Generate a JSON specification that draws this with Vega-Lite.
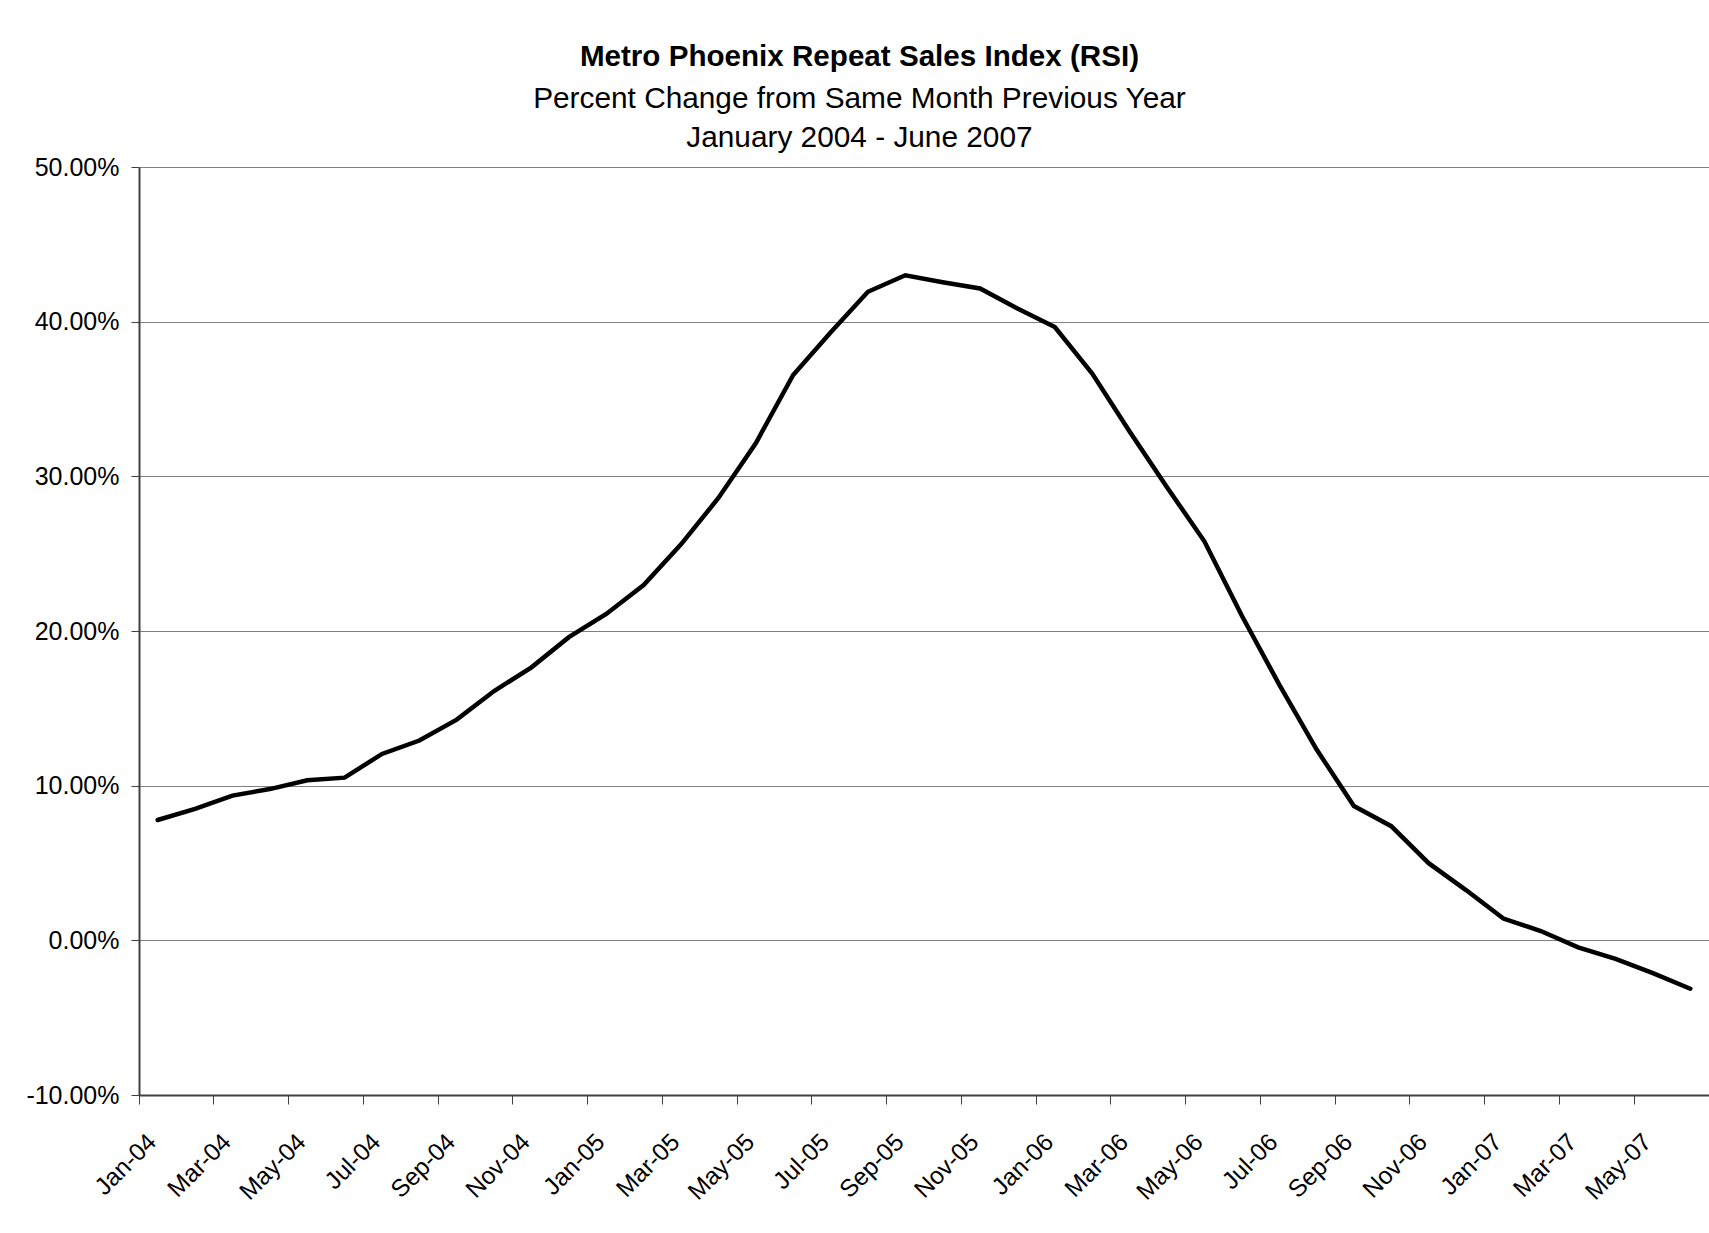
{
  "$schema": "https://vega.github.io/schema/vega-lite/v6.json",
  "autosize": "none",
  "width": 1570,
  "height": 928,
  "padding": {"left": 139, "top": 167, "right": 0, "bottom": 138},
  "background": "white",
  "title": {
    "text": "Metro Phoenix Repeat Sales Index (RSI)",
    "subtitle": ["Percent Change from Same Month Previous Year", "January 2004 - June 2007"],
    "anchor": "middle",
    "frame": "bounds",
    "dx": -8,
    "font": "Liberation Sans",
    "fontSize": 29.6,
    "fontWeight": "bold",
    "color": "black",
    "subtitleFont": "Liberation Sans",
    "subtitleFontSize": 29.8,
    "subtitleColor": "black",
    "subtitleLineHeight": 39,
    "subtitlePadding": 12,
    "offset": 1
  },
  "data": {
    "values": [
      {"month": "Jan-04", "pct": 7.78},
      {"month": "Feb-04", "pct": 8.5},
      {"month": "Mar-04", "pct": 9.36},
      {"month": "Apr-04", "pct": 9.78},
      {"month": "May-04", "pct": 10.35},
      {"month": "Jun-04", "pct": 10.52},
      {"month": "Jul-04", "pct": 12.05},
      {"month": "Aug-04", "pct": 12.92},
      {"month": "Sep-04", "pct": 14.27},
      {"month": "Oct-04", "pct": 16.12},
      {"month": "Nov-04", "pct": 17.65},
      {"month": "Dec-04", "pct": 19.6},
      {"month": "Jan-05", "pct": 21.1},
      {"month": "Feb-05", "pct": 22.97},
      {"month": "Mar-05", "pct": 25.6},
      {"month": "Apr-05", "pct": 28.6},
      {"month": "May-05", "pct": 32.14},
      {"month": "Jun-05", "pct": 36.55},
      {"month": "Jul-05", "pct": 39.3},
      {"month": "Aug-05", "pct": 41.93},
      {"month": "Sep-05", "pct": 43.0},
      {"month": "Oct-05", "pct": 42.55},
      {"month": "Nov-05", "pct": 42.15},
      {"month": "Dec-05", "pct": 40.85},
      {"month": "Jan-06", "pct": 39.65},
      {"month": "Feb-06", "pct": 36.65},
      {"month": "Mar-06", "pct": 32.9},
      {"month": "Apr-06", "pct": 29.3},
      {"month": "May-06", "pct": 25.8},
      {"month": "Jun-06", "pct": 21.0},
      {"month": "Jul-06", "pct": 16.55},
      {"month": "Aug-06", "pct": 12.35},
      {"month": "Sep-06", "pct": 8.68},
      {"month": "Oct-06", "pct": 7.38},
      {"month": "Nov-06", "pct": 4.99},
      {"month": "Dec-06", "pct": 3.25},
      {"month": "Jan-07", "pct": 1.41},
      {"month": "Feb-07", "pct": 0.6},
      {"month": "Mar-07", "pct": -0.45},
      {"month": "Apr-07", "pct": -1.2},
      {"month": "May-07", "pct": -2.12},
      {"month": "Jun-07", "pct": -3.13}
    ]
  },
  "mark": {"type": "line", "color": "black", "strokeWidth": 4.5, "strokeJoin": "miter", "strokeCap": "round"},
  "encoding": {
    "x": {
      "field": "month",
      "type": "ordinal",
      "sort": null,
      "scale": {"type": "band", "paddingInner": 0, "paddingOuter": 0},
      "axis": {
        "title": null,
        "values": ["Jan-04", "Mar-04", "May-04", "Jul-04", "Sep-04", "Nov-04", "Jan-05", "Mar-05", "May-05", "Jul-05", "Sep-05", "Nov-05", "Jan-06", "Mar-06", "May-06", "Jul-06", "Sep-06", "Nov-06", "Jan-07", "Mar-07", "May-07"],
        "bandPosition": 0,
        "grid": false,
        "labelAngle": -45,
        "labelAlign": "right",
        "labelBaseline": "alphabetic",
        "labelOffset": 0,
        "labelPadding": 39,
        "labelFont": "Liberation Sans",
        "labelFontSize": 24.5,
        "labelColor": "black",
        "labelOverlap": false,
        "tickSize": 9,
        "tickColor": "#404040",
        "tickWidth": 1,
        "domainColor": "#404040",
        "domainWidth": 2
      }
    },
    "y": {
      "field": "pct",
      "type": "quantitative",
      "scale": {"domain": [-10, 50], "nice": false, "zero": false},
      "axis": {
        "title": null,
        "values": [-10, 0, 10, 20, 30, 40, 50],
        "labelExpr": "replace(format(datum.value, '.2f'), '\u2212', '-') + '%'",
        "labelFont": "Liberation Sans",
        "labelFontSize": 25,
        "labelColor": "black",
        "labelPadding": 12,
        "tickSize": 8,
        "tickColor": "#404040",
        "domainColor": "#404040",
        "domainWidth": 2,
        "grid": true,
        "gridColor": "#808080",
        "gridWidth": 1.2
      }
    }
  },
  "config": {
    "view": {"stroke": null}
  }
}
